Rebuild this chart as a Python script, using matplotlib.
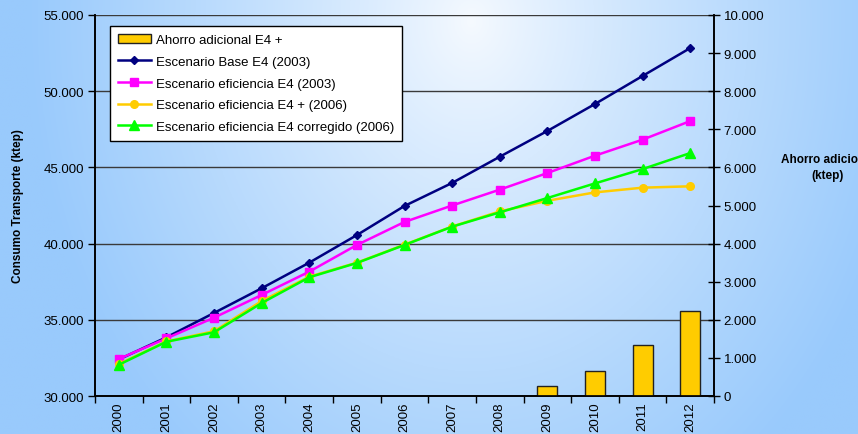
import numpy as np
import matplotlib.pyplot as plt
from matplotlib.ticker import FuncFormatter, MultipleLocator

plt.rcParams["font.family"] = ["Liberation Sans", "DejaVu Sans"]

years = ["2000", "2001", "2002", "2003", "2004", "2005", "2006",
         "2007", "2008", "2009", "2010", "2011", "2012"]

base_2003 = [32400, 33850, 35450, 37070, 38750, 40560, 42470,
             43980, 45700, 47390, 49160, 51000, 52830]
eficiencia_2003 = [32430, 33780, 35140, 36630, 38160, 39910, 41420,
                   42500, 43540, 44630, 45770, 46820, 48040]
eficiencia_mas_2006 = [32100, 33580, 34250, 36230, 37830, 38750, 39930,
                       41120, 42110, 42810, 43360, 43670, 43760]
corregido_2006 = [32050, 33560, 34180, 36100, 37790, 38730, 39910,
                  41110, 42050, 42990, 43950, 44890, 45940]
ahorro_adicional = [0, 0, 0, 0, 0, 0, 0, 0, 0, 250, 655, 1340, 2220]

W, H = 858, 435


def thousands(value, _pos):
    return f"{value:,.0f}".replace(",", ".")


fig = plt.figure(figsize=(W / 100, H / 100), dpi=100)

# soft blue background, lightest near the top middle
bg = fig.add_axes([0, 0, 1, 1], zorder=-10)
gx, gy = np.meshgrid(np.linspace(0, 1, 400), np.linspace(0, 1, 200))
dist = np.clip(np.sqrt(((gx - 0.55) / 0.52) ** 2 + ((gy - 0.95) / 1.3) ** 2), 0, 1)
centre = np.array([246, 250, 255]) / 255
edge = np.array([153, 202, 252]) / 255
img = centre + (edge - centre) * (dist[..., None] ** 0.85)
bg.imshow(img, origin="lower", extent=[0, 1, 0, 1], aspect="auto")
bg.axis("off")

left, right = 95 / W, 714 / W
bottom, top = 1 - 397 / H, 1 - 16 / H
ax = fig.add_axes([left, bottom, right - left, top - bottom])
ax2 = ax.twinx()
for a in (ax, ax2):
    a.patch.set_visible(False)

x = np.arange(len(years))

bars = ax2.bar(x, ahorro_adicional, width=0.42, color="#FFCC00",
               edgecolor="#222222", linewidth=1.0,
               label="Ahorro adicional E4 +")

l1, = ax.plot(x, base_2003, color="#000080", lw=1.8, marker="D", ms=4.5,
              label="Escenario Base E4 (2003)")
l2, = ax.plot(x, eficiencia_2003, color="#FF00FF", lw=1.8, marker="s", ms=5.5,
              label="Escenario eficiencia E4 (2003)")
l3, = ax.plot(x, eficiencia_mas_2006, color="#FFCC00", lw=1.8, marker="o", ms=5.5,
              label="Escenario eficiencia E4 + (2006)")
l4, = ax.plot(x, corregido_2006, color="#00FF00", lw=1.8, marker="^", ms=6.5,
              label="Escenario eficiencia E4 corregido (2006)")

ax.set_xlim(-0.5, len(years) - 0.5)
ax.set_ylim(30000, 55000)
ax.yaxis.set_major_locator(MultipleLocator(5000))
ax.yaxis.set_major_formatter(FuncFormatter(thousands))
ax.grid(axis="y", color="#3a3a3a", lw=1.0)
ax.set_axisbelow(True)

ax2.set_ylim(0, 10000)
ax2.yaxis.set_major_locator(MultipleLocator(1000))
ax2.yaxis.set_major_formatter(FuncFormatter(thousands))

# category boundaries get the ticks, year labels sit between them
ax.set_xticks(np.arange(len(years) + 1) - 0.5)
ax.set_xticklabels([])
ax.set_xticks(x, minor=True)
ax.set_xticklabels(years, minor=True, rotation=90, fontsize=9.5)
ax.tick_params(axis="x", which="major", direction="out", length=5, width=1, color="black")
ax.tick_params(axis="x", which="minor", length=0, pad=4)
ax.tick_params(axis="y", direction="out", length=5, width=1, labelsize=9.5, pad=3)
ax2.tick_params(axis="y", direction="inout", length=8, width=1, labelsize=9.5, pad=3)

for a in (ax, ax2):
    a.spines["top"].set_visible(False)
    for side in ("left", "right", "bottom"):
        a.spines[side].set_color("black")
        a.spines[side].set_linewidth(1.2)

fig.text(18 / W, 1 - 206 / H, "Consumo Transporte (ktep)", rotation=90,
         ha="center", va="center", fontsize=8.5, fontweight="bold")
fig.text(828 / W, 1 - 168 / H, "Ahorro adicional\n(ktep)", ha="center",
         va="center", fontsize=8.5, fontweight="bold", linespacing=1.35)

leg = ax2.legend(handles=[bars, l1, l2, l3, l4], loc="upper left",
                 bbox_to_anchor=(15 / 619, 370 / 381), borderaxespad=0,
                 fontsize=9.5, frameon=True, fancybox=False, framealpha=1,
                 edgecolor="black", handlelength=2.5, handletextpad=0.35,
                 labelspacing=0.72, borderpad=0.6)
leg.get_frame().set_linewidth(1.0)

fig.savefig("out.png", dpi=100)
